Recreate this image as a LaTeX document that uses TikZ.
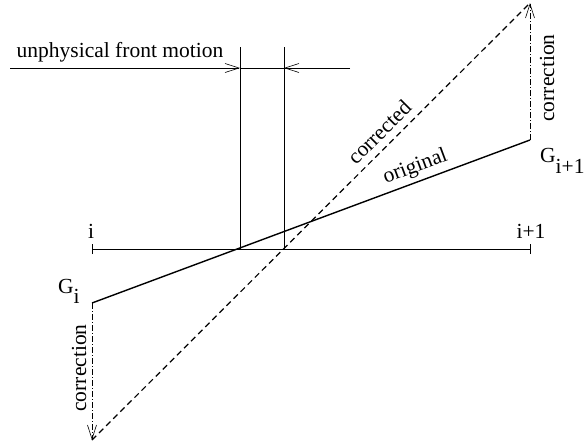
\documentclass[tikz,border=0pt]{standalone}
\usepackage{fontspec}
\setmainfont{Liberation Serif}
\usetikzlibrary{arrows.meta}
\tikzset{
  barb/.style={-{Straight Barb[length=14pt,width=9pt]}},
  corr/.style={barb, line width=0.6pt, dash pattern=on 6pt off 2pt on 1pt off 2pt},
}
\begin{document}
\begin{tikzpicture}[x=1pt, y=-1pt, every node/.style={font=\fontsize{21.5}{24}\selectfont, inner sep=0pt}]
  \useasboundingbox (0,0) rectangle (584,445);
  % Points
  \coordinate (a) at (92,249);
  \coordinate (b) at (530,249);
  \coordinate (gi) at (92,303);
  \coordinate (gj) at (530,140);
  \coordinate (ci) at (92,440);
  \coordinate (cj) at (530,3);
  \coordinate (fl) at (240,249);
  \coordinate (fr) at (284,249);
  \coordinate (fla) at (240,47);
  \coordinate (fra) at (284,47);
  \coordinate (fl1) at (240,68);
  \coordinate (fr1) at (284,68);
  \coordinate (hl) at (10,68);
  \coordinate (hr) at (350,68);

  % Labels
  \node[anchor=base] (ti) at (91,238) {i};
  \node[anchor=base] (tj) at (531,238) {i+1};
  \node[anchor=base west] (tgi) at (58,293) {G\raisebox{-10pt}{i}};
  \node[anchor=base west] (tgj) at (540,162) {G\raisebox{-11pt}{i+1}};
  \node[anchor=base] (tf) at (120,57) {unphysical front motion};
  \node[rotate=90] (tci) at (79,368) {correction};
  \node[rotate=90] (tcj) at (547,78) {correction};

  % Axis
  \draw[line width=0.6pt] (a) -- (b);
  \draw[line width=0.6pt] ([yshift=-5pt]a) -- ([yshift=5pt]a);
  \draw[line width=0.6pt] ([yshift=-5pt]b) -- ([yshift=5pt]b);

  % Front positions
  \draw[line width=0.6pt] (fla) -- (fl);
  \draw[line width=0.6pt] (fra) -- (fr);
  \draw[line width=0.6pt] (fl1) -- (fr1);
  \draw[barb, line width=0.6pt] (hl) -- (fl1);
  \draw[barb, line width=0.6pt] (hr) -- (fr1);

  % Profiles with labels
  \draw[line width=1.4pt] (gi) -- node[sloped, above=4pt, pos=0.75] (to) {original} (gj);
  \draw[line width=1.2pt, dash pattern=on 6pt off 4pt] (ci) -- node[sloped, above=7pt, pos=0.68] (tc) {corrected} (cj);
  \draw[corr] (gi) -- (ci);
  \draw[corr] (gj) -- (cj);
\end{tikzpicture}
\end{document}
